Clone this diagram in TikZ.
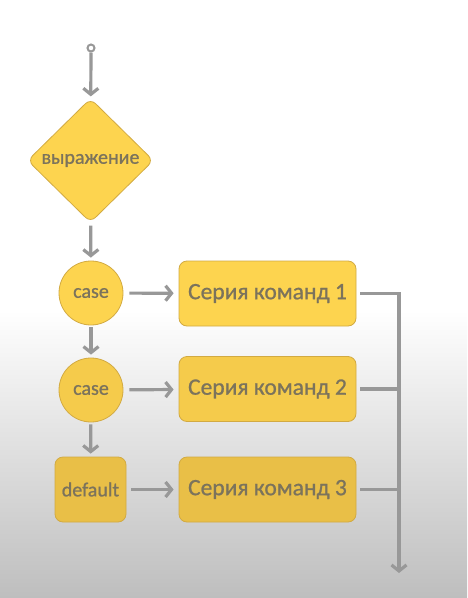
\documentclass[tikz,border=0pt]{standalone}
\usepackage{fontspec}
\setmainfont{Carlito}[RawFeature={embolden=0.9}]
\usetikzlibrary{shapes.geometric,arrows.meta}
\definecolor{yA}{HTML}{FDD44F}
\definecolor{yB}{HTML}{F5CB4B}
\definecolor{yC}{HTML}{E9BF47}
\definecolor{bordc}{HTML}{D2AA42}
\definecolor{txtc}{HTML}{7B735C}
\definecolor{conc}{HTML}{989898}
\definecolor{bgbot}{HTML}{BEBEBE}
\begin{document}
\begin{tikzpicture}[x=1pt,y=-1pt,
  con/.style={draw=conc, line width=3.2pt},
  arr/.style={con, -{Straight Barb[length=6pt,width=15pt]}},
  shape base/.style={draw=bordc, line width=0.8pt, text=txtc, inner sep=0pt},
  diam/.style={shape base, diamond, shape aspect=1, minimum width=126pt, minimum height=124pt, rounded corners=7pt, fill=yA, font=\fontsize{20}{24}\selectfont},
  circ/.style={shape base, circle, minimum size=64pt, font=\fontsize{20}{24}\selectfont},
  defbox/.style={shape base, rectangle, rounded corners=8pt, minimum width=71pt, minimum height=65pt, font=\fontsize{20}{24}\selectfont},
  cmd/.style={shape base, rectangle, rounded corners=8pt, minimum width=177pt, minimum height=65pt, font=\fontsize{23.5}{28}\selectfont},
  startdot/.style={circle, draw=conc, line width=2pt, fill=white, minimum size=7pt, inner sep=0pt}
]
\useasboundingbox (0,0) rectangle (467,598);
\fill[white] (0,0) rectangle (467,310);
\shade[top color=white, bottom color=bgbot] (0,310) rectangle (467,598);

\node[startdot] (s) at (91,48) {};
\node[diam] (d) at (90.5,160.5) {выражение};
\node[circ, fill=yA] (c1) at (91,293) {case};
\node[cmd, fill=yA] (b1) at (267.5,293.5) {Серия команд 1};
\node[circ, fill=yB] (c2) at (91,390) {case};
\node[cmd, fill=yB] (b2) at (267.5,389) {Серия команд 2};
\node[defbox, fill=yC] (df) at (90.5,489.5) {default};
\node[cmd, fill=yC] (b3) at (267.5,489.5) {Серия команд 3};
\coordinate (e) at (399,573);

\draw[arr, shorten >=2pt] (s) -- (d);
\draw[arr, shorten <=3pt, shorten >=3pt] (d) -- (c1);
\draw[arr, shorten <=2pt, shorten >=3pt] (c1) -- (c2);
\draw[arr, shorten <=2pt, shorten >=3pt] (c2) -- (df);
\draw[arr, shorten <=6pt, shorten >=5pt] (c1) -- (b1);
\draw[arr, shorten <=6pt, shorten >=5pt] (c2) -- (b2);
\draw[arr, shorten <=5pt, shorten >=5pt] (df) -- (b3);
\draw[arr, shorten <=4pt] (b1.east) -- (b1.east -| e) -- (e);
\draw[con, shorten <=4pt, shorten >=2pt] (b2.east) -- (b2.east -| e);
\draw[con, shorten <=4pt, shorten >=2pt] (b3.east) -- (b3.east -| e);
\end{tikzpicture}
\end{document}
